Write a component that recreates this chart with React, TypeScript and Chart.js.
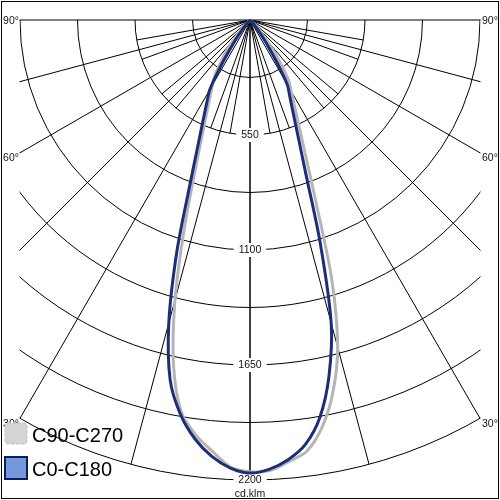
import React, { useEffect, useRef } from "react";
import { Chart, registerables } from "chart.js";

Chart.register(...registerables);

// Gamma angles (degrees from nadir) at which intensities are read
const gammaAngles = [0, 2.5, 5, 7.5, 10, 12.5, 15, 17.5, 20, 22.5, 25, 27.5, 30, 32.5, 35, 37.5, 40, 42.5, 45, 47.5, 50, 60, 70, 80, 90];

// C0-C180 plane (cd/klm): C0 drawn right, C180 drawn left
const c0Values = [2167, 2150, 2110, 2045, 1928, 1745, 1500, 1115, 778, 599, 487, 412, 355, 235, 140, 80, 45, 20, 5, 0, 0, 0, 0, 0, 0];
const c180Values = [2167, 2145, 2095, 2020, 1915, 1764, 1500, 1165, 843, 652, 532, 449, 385, 255, 150, 80, 40, 15, 0, 0, 0, 0, 0, 0, 0];

// C90-C270 plane (cd/klm): C90 drawn right, C270 drawn left
const c90Values = [2160, 2157, 2120, 2080, 1980, 1828, 1620, 1300, 916, 686, 549, 458, 394, 345, 260, 181, 110, 55, 20, 5, 0, 0, 0, 0, 0];
const c270Values = [2160, 2140, 2070, 2000, 1900, 1690, 1386, 1045, 770, 600, 490, 414, 360, 310, 240, 181, 110, 55, 20, 5, 0, 0, 0, 0, 0];

const seriesNames = ["C0-C180", "C90-C270"];

// Grid
const gridCircles = [275, 550, 825, 1100, 1375, 1650, 1925, 2200];
const ringLabels = [550, 1100, 1650, 2200];
const majorAngles = [0, 15, 30, 45, 60, 75, 90];
const minorAngles = [10, 20, 40, 50, 70, 80];
const angleLabelValues = [90, 60, 30];
const unitLabel = "cd.klm";
const maxIntensity = 2200;
const clipHalfWidth = 1100;

const FONT = "'Liberation Sans', Arial, sans-serif";

function buildCurve(left: number[], right: number[]) {
  const pts: { x: number; y: number }[] = [];
  for (let i = gammaAngles.length - 1; i >= 0; i--) {
    const g = (gammaAngles[i] * Math.PI) / 180;
    pts.push({ x: -left[i] * Math.sin(g), y: -left[i] * Math.cos(g) });
  }
  for (let i = 1; i < gammaAngles.length; i++) {
    const g = (gammaAngles[i] * Math.PI) / 180;
    pts.push({ x: right[i] * Math.sin(g), y: -right[i] * Math.cos(g) });
  }
  return pts;
}

const polarGrid = {
  id: "polarGrid",
  beforeDatasetsDraw(chart: any) {
    const { ctx, scales } = chart;
    const xs = scales.x;
    const ys = scales.y;
    const cx = xs.getPixelForValue(0);
    const cy = ys.getPixelForValue(0);
    const k = xs.getPixelForValue(1000) - cx; // px per 1000 cd
    const rp = (v: number) => (v * k) / 1000;
    const left = xs.getPixelForValue(-clipHalfWidth);
    const right = xs.getPixelForValue(clipHalfWidth);

    ctx.save();
    ctx.beginPath();
    ctx.rect(left - 0.5, cy - 1, right - left + 1, chart.height);
    ctx.clip();
    ctx.strokeStyle = "#000";
    ctx.lineWidth = 1;
    for (const c of gridCircles) {
      ctx.beginPath();
      ctx.arc(cx, cy, rp(c), 0, Math.PI);
      ctx.stroke();
    }
    const drawRay = (deg: number, len: number) => {
      const a = (deg * Math.PI) / 180;
      for (const s of [-1, 1]) {
        ctx.beginPath();
        ctx.moveTo(cx, cy);
        ctx.lineTo(cx + s * rp(len) * Math.sin(a), cy + rp(len) * Math.cos(a));
        ctx.stroke();
      }
    };
    for (const a of majorAngles) drawRay(a, maxIntensity);
    for (const a of minorAngles) drawRay(a, 550);
    ctx.restore();

    // ring labels with white boxes
    ctx.save();
    ctx.font = `10.5px ${FONT}`;
    ctx.textAlign = "center";
    ctx.textBaseline = "middle";
    for (const v of ringLabels) {
      const py = ys.getPixelForValue(-v);
      const t = String(v);
      const w = ctx.measureText(t).width;
      ctx.fillStyle = "#fff";
      ctx.fillRect(cx - w / 2 - 5, py - 7, w + 10, 14);
      ctx.fillStyle = "#111";
      ctx.fillText(t, cx, py + 0.5);
    }
    ctx.fillStyle = "#111";
    ctx.fillText(unitLabel, cx, ys.getPixelForValue(-maxIntensity) + 14);

    // angle labels
    for (const a of angleLabelValues) {
      const rad = (a * Math.PI) / 180;
      const R = Math.min(maxIntensity, clipHalfWidth / Math.sin(rad));
      const ey = cy + rp(R) * Math.cos(rad);
      const off = a === 90 ? 1 : a === 60 ? 5 : 5.5;
      ctx.textBaseline = "middle";
      ctx.textAlign = "right";
      ctx.fillText(a + "°", left - 1, ey + off);
      ctx.textAlign = "left";
      ctx.fillText(a + "°", right + 2, ey + off);
    }
    ctx.restore();
  },
  afterDraw(chart: any) {
    const { ctx } = chart;
    ctx.save();
    const ds = chart.data.datasets;
    const order = [1, 0];
    order.forEach((idx: number, row: number) => {
      const d = ds[idx];
      const top = 423 + row * 34;
      if (idx === 1) {
        ctx.fillStyle = "#d4d4d4";
        ctx.beginPath();
        (ctx as any).roundRect(5, top, 22, 21, 3);
        ctx.fill();
        ctx.setLineDash([3, 2]);
        ctx.strokeStyle = "#bdbdbd";
        ctx.lineWidth = 1;
        ctx.stroke();
        ctx.setLineDash([]);
      } else {
        ctx.fillStyle = "#7398dc";
        ctx.fillRect(5, top, 22, 22);
        ctx.strokeStyle = "#0c1d5a";
        ctx.lineWidth = 2;
        ctx.strokeRect(5, top, 22, 22);
      }
      ctx.fillStyle = "#000";
      ctx.font = `20px ${FONT}`;
      ctx.textAlign = "left";
      ctx.textBaseline = "alphabetic";
      ctx.fillText(d.label, 32, top + 19);
    });
    ctx.strokeStyle = "#000";
    ctx.lineWidth = 1;
    ctx.strokeRect(1.5, 1.5, 497, 497);
    ctx.restore();
  },
};

export default function App() {
  const ref = useRef<HTMLCanvasElement | null>(null);
  useEffect(() => {
    if (!ref.current) return;
    const pxPerCd = 460 / 2200;
    const chart = new Chart(ref.current, {
      type: "scatter",
      data: {
        datasets: [
          {
            label: seriesNames[0],
            data: buildCurve(c180Values, c0Values),
            showLine: true,
            borderColor: "#1b2f78",
            borderWidth: 3,
            pointRadius: 0,
            tension: 0.3,
            order: 0,
          },
          {
            label: seriesNames[1],
            data: buildCurve(c270Values, c90Values),
            showLine: true,
            borderColor: "#b5b5b5",
            borderWidth: 3,
            pointRadius: 0,
            tension: 0.3,
            order: 1,
          },
        ],
      },
      options: {
        animation: false,
        responsive: false,
        layout: { padding: 0 },
        plugins: { legend: { display: false }, tooltip: { enabled: false } },
        scales: {
          x: { type: "linear", display: false, min: -250 / pxPerCd, max: 250 / pxPerCd },
          y: { type: "linear", display: false, min: -480 / pxPerCd, max: 20 / pxPerCd },
        },
      },
      plugins: [polarGrid],
    });
    return () => chart.destroy();
  }, []);
  return (
    <div style={{ position: "absolute", left: 0, top: 0, width: 500, height: 500, background: "#fff" }}>
      <canvas ref={ref} width={500} height={500} />
    </div>
  );
}
